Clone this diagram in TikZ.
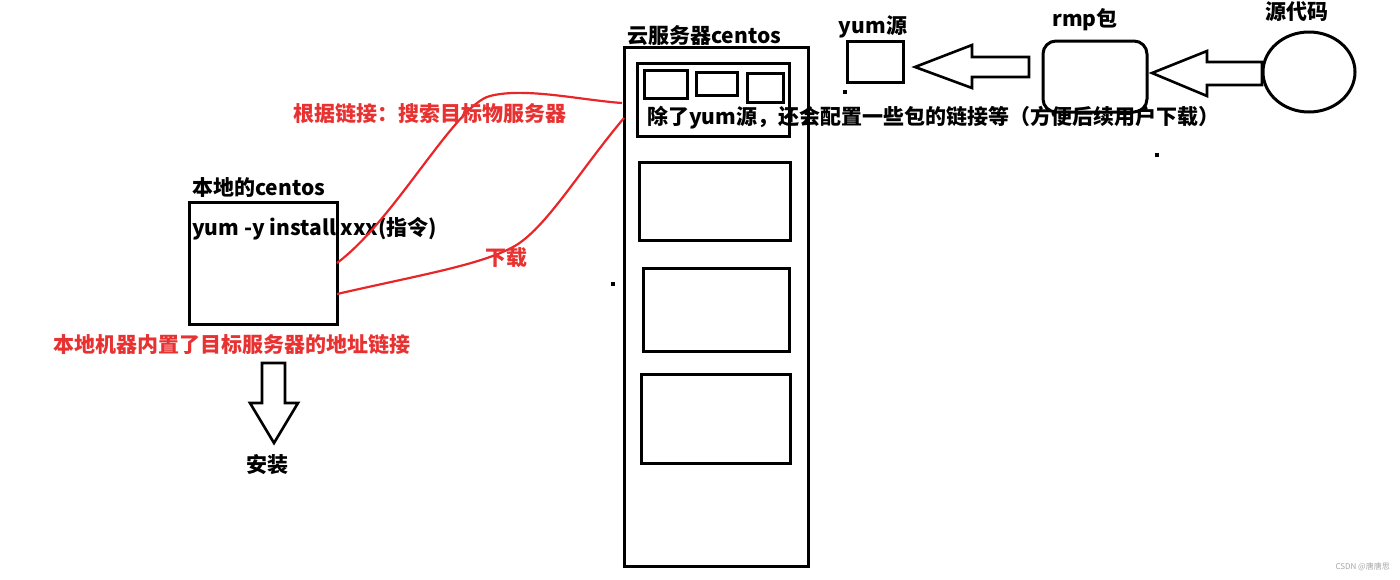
\documentclass[tikz,border=0pt]{standalone}
\usepackage{fontspec}
\newfontfamily\cjk{Noto Sans CJK SC}
\usetikzlibrary{shapes.geometric}
\definecolor{redline}{RGB}{232,38,40}
\definecolor{redtext}{RGB}{232,50,50}
\tikzset{
  blk/.style={draw=black,line width=3pt},
  lbl/.style={inner sep=0pt,anchor=west,font=\cjk\bfseries\fontsize{21}{21}\selectfont},
  rlbl/.style={lbl,text=redtext},
  redcurve/.style={draw=redline,line width=2.2pt},
  dotmark/.style={fill=black,inner sep=0pt,minimum size=3.5pt}
}
\begin{document}
\begin{tikzpicture}[x=1pt,y=-1pt]
\useasboundingbox (0,0) rectangle (1400,579);
% local machine
\node[lbl] (localt) at (192,188) {本地的centos};
\draw[blk] (189,202) rectangle (337,324);
\coordinate (lb1) at (337,263);
\coordinate (lb2) at (337,294);
\node[lbl] (cmd) at (192,229) {yum -y install xxx(指令)};
\node[rlbl] (builtin) at (53,345) {本地机器内置了目标服务器的地址链接};
% down arrow
\draw[blk,line width=2.6pt,line join=miter] (262,363) -- (285,363) -- (285,403) -- (298,403) -- (274,443) -- (250,403) -- (262,403) -- cycle;
\node[lbl,anchor=center] (install) at (267,465) {安装};
% server
\node[lbl] (servt) at (627,36) {云服务器centos};
\draw[blk] (624,47) rectangle (808,566);
\coordinate (sv1) at (622,103);
\coordinate (sv2) at (624,118);
\draw[blk] (637,63) rectangle (789,136);
\draw[blk] (644,70) rectangle (687,98);
\draw[blk] (696,72) rectangle (737,95);
\draw[blk] (747,73) rectangle (783,102);
\node[lbl] (desc) at (647,118) {除了yum源，还会配置一些包的链接等（方便后续用户下载）};
\draw[blk] (639,162) rectangle (790,240);
\draw[blk] (643,268) rectangle (789,351);
\draw[blk] (641,374) rectangle (790,463);
% red curves
\draw[redcurve] (lb1) .. controls (395,220) and (455,105) .. (490,96) .. controls (525,87) and (580,100) .. (sv1);
\draw[redcurve] (lb2) .. controls (420,275) and (480,265) .. (513,247) .. controls (545,230) and (580,170) .. (sv2);
\node[rlbl] (search) at (293,114) {根据链接：搜索目标物服务器};
\node[rlbl,anchor=center] (dl) at (506,258) {下载};
% yum source
\node[lbl,anchor=center] (yumt) at (873,27) {yum源};
\draw[blk] (847,41) rectangle (903,82);
% arrow 1
\draw[blk,line width=2.6pt,line join=miter] (1029,57) -- (972,57) -- (972,45) -- (915,67) -- (972,88) -- (972,77) -- (1029,77) -- cycle;
% rmp
\node[lbl,anchor=center] (rmpt) at (1085,20) {rmp包};
\draw[blk,rounded corners=13pt] (1043,41) rectangle (1147,112);
% arrow 2
\draw[blk,line width=2.6pt,line join=miter] (1262,62) -- (1207,62) -- (1207,51) -- (1152,73) -- (1207,96) -- (1207,85) -- (1262,85) -- cycle;
% source code
\node[lbl,anchor=center] (srct) at (1297,12) {源代码};
\node[blk,ellipse,minimum width=92pt,minimum height=80pt,inner sep=0pt] (src) at (1309,72) {};
% stray dots
\node[dotmark] (d1) at (845,92) {};
\node[dotmark] (d2) at (1157,155) {};
\node[dotmark] (d3) at (613,284) {};
% watermark
\node[inner sep=0pt,anchor=east,text=black!35,font=\cjk\fontsize{8}{8}\selectfont] (wm) at (1390,567) {CSDN @唐唐思};
\end{tikzpicture}
\end{document}
